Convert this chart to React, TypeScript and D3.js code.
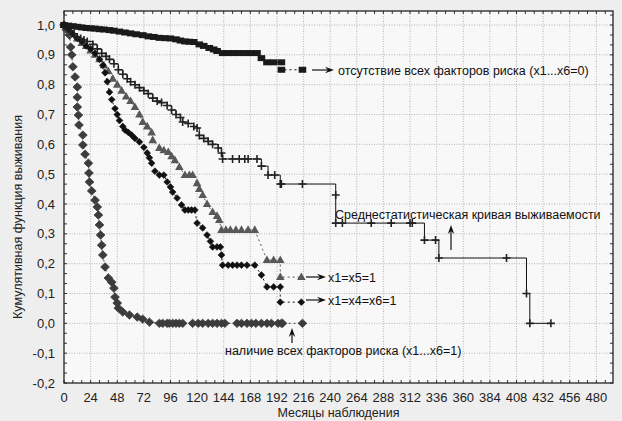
import React from "react";
import * as d3 from "d3";

// x ticks (months) and y ticks
const monthTicks = [0, 24, 48, 72, 96, 120, 144, 168, 192, 216, 240, 264, 288, 312, 336, 360, 384, 408, 432, 456, 480];
const survTicks = [-0.2, -0.1, 0, 0.1, 0.2, 0.3, 0.4, 0.5, 0.6, 0.7, 0.8, 0.9, 1.0];

// отсутствие всех факторов риска (squares)
const noRiskMonths = [0, 4, 8, 12, 16, 20, 24, 28, 32, 36, 41, 45, 50, 55, 60, 65, 71, 76, 81, 86, 91, 96, 101, 105, 109, 113, 117, 122, 126, 131, 135, 138, 143, 148, 153, 158, 163, 168, 174, 178, 183, 189, 196, 196, 215];
const noRiskSurv = [1, 0.998, 0.996, 0.994, 0.992, 0.99, 0.989, 0.988, 0.986, 0.985, 0.983, 0.981, 0.978, 0.975, 0.972, 0.969, 0.966, 0.962, 0.96, 0.957, 0.956, 0.955, 0.952, 0.948, 0.945, 0.944, 0.943, 0.935, 0.93, 0.923, 0.918, 0.913, 0.906, 0.906, 0.906, 0.906, 0.906, 0.906, 0.906, 0.889, 0.875, 0.875, 0.875, 0.85, 0.85];

// среднестатистическая кривая (plus)
const avgMonths = [0, 3, 6, 9, 12, 15, 18, 21, 26, 30, 34, 38, 41, 45, 49, 53, 57, 60, 64, 68, 72, 76, 80, 84, 88, 93, 97, 101, 105, 107, 112, 117, 120, 122, 126, 130, 134, 139, 142, 143, 152, 158, 163, 166, 174, 178, 184, 190, 195, 196, 215, 245, 245, 251, 277, 295, 312, 314, 325, 335, 338, 399, 417, 420, 439];
const avgSurv = [1, 0.99, 0.98, 0.97, 0.96, 0.955, 0.95, 0.945, 0.935, 0.92, 0.905, 0.895, 0.885, 0.87, 0.85, 0.835, 0.82, 0.81, 0.8, 0.79, 0.78, 0.77, 0.755, 0.745, 0.74, 0.73, 0.715, 0.7, 0.69, 0.675, 0.67, 0.66, 0.655, 0.63, 0.62, 0.61, 0.6, 0.588, 0.571, 0.551, 0.551, 0.551, 0.551, 0.551, 0.551, 0.527, 0.497, 0.497, 0.467, 0.467, 0.467, 0.43, 0.336, 0.336, 0.336, 0.336, 0.336, 0.336, 0.279, 0.279, 0.219, 0.219, 0.1, 0, 0];

// x1=x5=1 (triangles)
const x15Months = [0, 4, 8, 12, 16, 20, 24, 28, 32, 36, 40, 44, 48, 52, 56, 60, 64, 68, 71, 75, 79, 80, 86, 90, 94, 97, 100, 104, 109, 113, 116, 120, 122, 125, 129, 134, 138, 140, 142, 146, 150, 155, 160, 166, 172, 183, 189, 195, 195, 214];
const x15Surv = [1, 0.985, 0.97, 0.955, 0.94, 0.93, 0.915, 0.9, 0.885, 0.865, 0.845, 0.82, 0.8, 0.78, 0.76, 0.745, 0.725, 0.7, 0.675, 0.66, 0.64, 0.614, 0.588, 0.58, 0.574, 0.56, 0.547, 0.524, 0.497, 0.497, 0.497, 0.47, 0.45, 0.43, 0.4, 0.373, 0.36, 0.346, 0.313, 0.313, 0.313, 0.313, 0.313, 0.313, 0.313, 0.212, 0.212, 0.212, 0.155, 0.155];

// x1=x4=x6=1 (black dots)
const x146Months = [0, 4, 8, 12, 16, 20, 24, 28, 32, 35, 37, 39, 41, 43, 46, 48, 50, 53, 55, 58, 61, 64, 68, 72, 75, 77, 79, 82, 86, 90, 93, 96, 98, 102, 106, 109, 112, 115, 118, 120, 125, 129, 132, 134, 138, 141, 142, 143, 148, 152, 156, 160, 165, 172, 178, 183, 189, 195, 195, 214];
const x146Surv = [1, 0.985, 0.97, 0.955, 0.945, 0.93, 0.92, 0.905, 0.885, 0.865, 0.84, 0.81, 0.775, 0.75, 0.72, 0.7, 0.68, 0.66, 0.648, 0.64, 0.631, 0.62, 0.608, 0.59, 0.571, 0.555, 0.537, 0.51, 0.497, 0.497, 0.474, 0.457, 0.44, 0.42, 0.397, 0.38, 0.38, 0.38, 0.38, 0.336, 0.32, 0.296, 0.275, 0.256, 0.256, 0.256, 0.229, 0.195, 0.195, 0.195, 0.195, 0.195, 0.195, 0.195, 0.162, 0.122, 0.122, 0.122, 0.071, 0.071];

// наличие всех факторов риска (gray diamonds)
const allRiskMonths = [0, 2, 5, 6, 7, 8, 10, 12, 12, 12, 13, 13.5, 17, 17, 19, 22, 22.5, 23, 25, 28, 30, 31, 32, 33, 34, 35, 37, 40, 43, 45, 46, 48, 49, 53, 59, 66, 71, 77, 86, 89, 93, 95, 98, 101, 104, 107, 116, 121, 125, 130, 134, 138, 142, 145, 156, 160, 165, 169, 173, 178, 183, 187, 193, 196, 197, 215];
const allRiskSurv = [1, 0.985, 0.966, 0.926, 0.9, 0.86, 0.826, 0.792, 0.758, 0.725, 0.698, 0.665, 0.631, 0.598, 0.567, 0.537, 0.504, 0.474, 0.444, 0.413, 0.39, 0.363, 0.33, 0.296, 0.262, 0.229, 0.189, 0.152, 0.138, 0.118, 0.088, 0.068, 0.051, 0.038, 0.028, 0.021, 0.014, 0.004, 0, 0, 0, 0, 0, 0, 0, 0, 0, 0, 0, 0, 0, 0, 0, 0, 0, 0, 0, 0, 0, 0, 0, 0, 0, 0, 0, 0];

const W = 622;
const H = 421;
const FONT = "Arial, 'Liberation Sans', sans-serif";

const zip = (ms: number[], ss: number[]) => ms.map((m, i) => [m, ss[i]] as [number, number]);

const Arrow = ({ x1, y1, x2, y2 }: { x1: number; y1: number; x2: number; y2: number }) => {
  const a = Math.atan2(y2 - y1, x2 - x1);
  const L = 9, w = 3.2;
  const bx = x2 - L * Math.cos(a), by = y2 - L * Math.sin(a);
  const px = -Math.sin(a) * w, py = Math.cos(a) * w;
  const nx = x2 - (L - 3) * Math.cos(a), ny = y2 - (L - 3) * Math.sin(a);
  return (
    <g>
      <line x1={x1} y1={y1} x2={nx} y2={ny} stroke="#111" strokeWidth={1.2} />
      <path d={`M${x2},${y2}L${bx + px},${by + py}L${nx},${ny}L${bx - px},${by - py}Z`} fill="#111" />
    </g>
  );
};

export default function App() {
  const x = d3.scaleLinear().domain([0, 495]).range([64, 613]);
  const y = d3.scaleLinear().domain([-0.2, 1.047]).range([383, 11]);
  const [x0, x1] = x.range();
  const [y0, y1] = y.range();

  const stepLine = d3.line<[number, number]>().x((d) => x(d[0])).y((d) => y(d[1])).curve(d3.curveStepAfter);
  const linLine = d3.line<[number, number]>().x((d) => x(d[0])).y((d) => y(d[1]));

  const noRisk = zip(noRiskMonths, noRiskSurv);
  const avg = zip(avgMonths, avgSurv);
  const x15 = zip(x15Months, x15Surv);
  const x146 = zip(x146Months, x146Surv);
  const allRisk = zip(allRiskMonths, allRiskSurv);

  // minor ticks: three per major interval
  const xMinor = d3.range(0, 496, 8);
  const yMinor = d3.range(-0.2, 1.04, 0.1 / 3);

  return (
    <svg width={W} height={H} style={{ position: "absolute", left: 0, top: 0, background: "#eeeeee" }} fontFamily={FONT}>
      <rect x={x0} y={y1} width={x1 - x0} height={y0 - y1} fill="#f8f8f8" />
      {/* grid */}
      {monthTicks.filter((t) => t > 0).map((t) => (
        <line key={"gx" + t} x1={x(t)} x2={x(t)} y1={y1} y2={y0} stroke="#b5b5b5" strokeDasharray="1,1.5" />
      ))}
      {survTicks.filter((t) => t > -0.2).map((t) => (
        <line key={"gy" + t} x1={x0} x2={x1} y1={y(t)} y2={y(t)} stroke="#b5b5b5" strokeDasharray="1,1.5" />
      ))}
      {/* minor ticks */}
      {xMinor.map((t) => (
        <g key={"mx" + t}>
          <line x1={x(t)} x2={x(t)} y1={y0} y2={y0 - 3} stroke="#333" />
          <line x1={x(t)} x2={x(t)} y1={y1} y2={y1 + 3} stroke="#333" />
        </g>
      ))}
      {yMinor.map((t, i) => (
        <g key={"my" + i}>
          <line x1={x0} x2={x0 + 3} y1={y(t)} y2={y(t)} stroke="#333" />
          <line x1={x1} x2={x1 - 3} y1={y(t)} y2={y(t)} stroke="#333" />
        </g>
      ))}
      <rect x={x0} y={y1} width={x1 - x0} height={y0 - y1} fill="none" stroke="#222" strokeWidth={1.3} />

      {/* tick labels */}
      {monthTicks.map((t) => (
        <text key={"lx" + t} x={x(t)} y={402} textAnchor="middle" fontSize={13} fill="#222">{t}</text>
      ))}
      {survTicks.map((t) => (
        <text key={"ly" + t} x={55} y={y(t) + 4.5} textAnchor="end" fontSize={13} fill="#222">
          {d3.format(".1f")(t).replace(".", ",").replace("−", "-")}
        </text>
      ))}
      <text x={(x0 + x1) / 2} y={417} textAnchor="middle" fontSize={12.5} fill="#222">Месяцы наблюдения</text>
      <text transform={`translate(22,${(y0 + y1) / 2 + 20}) rotate(-90)`} textAnchor="middle" fontSize={12.5} fill="#222">
        Кумулятивная функция выживания
      </text>

      {/* all risk factors: gray diamonds */}
      <path d={linLine(allRisk) ?? ""} fill="none" stroke="#444" strokeDasharray="2,3" />
      {allRisk.map((d, i) => (
        <path key={"ar" + i} d="M0,-4.2L4.4,0L0,4.2L-4.4,0Z" transform={`translate(${x(d[0])},${y(d[1])})`} fill="#3c3c3c" stroke="#3c3c3c" strokeWidth={0.8} strokeLinejoin="round" />
      ))}

      {/* x1=x5=1 triangles */}
      <path d={linLine(x15) ?? ""} fill="none" stroke="#555" strokeDasharray="2,3" />
      {x15.map((d, i) => (
        <path key={"t" + i} d="M0,-4.6L4.3,3L-4.3,3Z" transform={`translate(${x(d[0])},${y(d[1])})`} fill="#585858" />
      ))}

      {/* x1=x4=x6=1 black dots */}
      <path d={linLine(x146) ?? ""} fill="none" stroke="#111" strokeDasharray="2,3" />
      {x146.map((d, i) => (
        <path key={"b" + i} d="M0,-3.4L3.4,0L0,3.4L-3.4,0Z" transform={`translate(${x(d[0])},${y(d[1])})`} fill="#111" stroke="#111" strokeWidth={0.6} strokeLinejoin="round" />
      ))}

      {/* average curve: plus */}
      <path d={stepLine(avg) ?? ""} fill="none" stroke="#111" strokeWidth={1} />
      {avg.map((d, i) => (
        <path key={"p" + i} d="M-4,0H4M0,-4V4" transform={`translate(${x(d[0])},${y(d[1])})`} stroke="#222" strokeWidth={1.6} />
      ))}

      {/* no risk factors: squares */}
      <path d={linLine(noRisk) ?? ""} fill="none" stroke="#111" strokeDasharray="2,3" />
      {noRisk.map((d, i) => (
        <rect key={"s" + i} x={x(d[0]) - 3.8} y={y(d[1]) - 3} width={7.6} height={6} fill="#1a1a1a" />
      ))}

      {/* annotations */}
      <Arrow x1={312} y1={70} x2={334} y2={70} />
      <text x={338} y={75} fontSize={12.5} fill="#111">отсутствие всех факторов риска (x1...x6=0)</text>

      <text x={335} y={219} fontSize={12.5} fill="#111">Среднестатистическая кривая выживаемости</text>
      <Arrow x1={451} y1={250} x2={451} y2={225} />

      <Arrow x1={306} y1={277} x2={326} y2={277} />
      <text x={328} y={282} fontSize={12.5} fill="#111">x1=x5=1</text>

      <Arrow x1={306} y1={300} x2={326} y2={300} />
      <text x={328} y={305} fontSize={12.5} fill="#111">x1=x4=x6=1</text>

      <Arrow x1={292} y1={343} x2={292} y2={328} />
      <text x={225} y={355} fontSize={12.5} fill="#111">наличие всех факторов риска (x1...x6=1)</text>
    </svg>
  );
}
